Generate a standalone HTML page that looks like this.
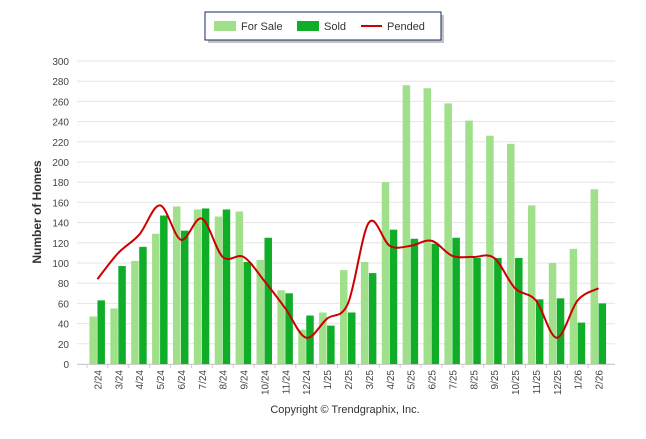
<!DOCTYPE html>
<html><head><meta charset="utf-8"><style>
body{margin:0;background:#fff;font-family:"Liberation Sans",Arial,sans-serif}
svg text{font-family:"Liberation Sans",Arial,sans-serif}
</style></head><body>
<svg id="c" width="646" height="434">
<g id="grid"></g>
<g id="bars"></g>
<g id="line"></g>
<g id="ax"></g>
<text x="41" y="212" transform="rotate(-90 41 212)" text-anchor="middle" font-size="12" font-weight="bold" fill="#333">Number of Homes</text>
<text x="345" y="413" text-anchor="middle" font-size="11" fill="#333">Copyright © Trendgraphix, Inc.</text>
<g>
<rect x="208" y="15" width="236" height="28" fill="#888" opacity="0.5"/>
<rect x="205" y="12" width="236" height="28" fill="#fff" stroke="#1a2a6c" stroke-width="1"/>
<rect x="214" y="21" width="22" height="10" fill="#a0e08a"/>
<text x="241" y="30" font-size="11" fill="#333">For Sale</text>
<rect x="297" y="21" width="22" height="10" fill="#0fad28"/>
<text x="324" y="30" font-size="11" fill="#333">Sold</text>
<line x1="361" y1="26" x2="382" y2="26" stroke="#cc0000" stroke-width="2"/>
<text x="387" y="30" font-size="11" fill="#333">Pended</text>
</g>
</svg>
<script>
const categories=["2/24","3/24","4/24","5/24","6/24","7/24","8/24","9/24","10/24","11/24","12/24","1/25","2/25","3/25","4/25","5/25","6/25","7/25","8/25","9/25","10/25","11/25","12/25","1/26","2/26"];
const forSale=[47,55,102,129,156,153,146,151,103,73,34,51,93,101,180,276,273,258,241,226,218,157,100,114,173];
const sold=[63,97,116,147,132,154,153,101,125,70,48,38,51,90,133,124,119,125,105,105,105,64,65,41,60];
const pended=[84,110,128,157,123,144,106,106,82,55,26,45,60,140,117,117,122,107,106,105,75,63,26,63,75];
const yTicks=[0,20,40,60,80,100,120,140,160,180,200,220,240,260,280,300];
const NS="http://www.w3.org/2000/svg";
const L=87,R=609,T=61,B=364;
const step=(R-L)/categories.length;
const y=v=>B-(v/300)*(B-T);
const xc=i=>L+step*(i+0.5);
function mk(t,a,p){const e=document.createElementNS(NS,t);for(const k in a)e.setAttribute(k,a[k]);p.appendChild(e);return e;}
const grid=document.getElementById('grid'),bars=document.getElementById('bars'),ax=document.getElementById('ax'),line=document.getElementById('line');
yTicks.forEach(v=>{
 const g=mk('line',{x1:77,x2:615,y1:y(v),y2:y(v),stroke:'#e6e6e6'},grid);
 
 
 const t=mk('text',{x:69,y:y(v)+4,'text-anchor':'end','font-size':'10',fill:'#444'},ax);
 t.textContent=v;
 
 
});
mk('line',{x1:77,x2:615,y1:B+0.5,y2:B+0.5,stroke:'#ccc'},ax);
categories.forEach((c,i)=>{
 const cx=xc(i);
 const a=mk('rect',{x:cx-8,y:y(forSale[i]),width:7.5,height:B-y(forSale[i]),fill:'#a0e08a'},bars);
 
 
 const b=mk('rect',{x:cx,y:y(sold[i]),width:7.5,height:B-y(sold[i]),fill:'#0fad28'},bars);
 
 
 const t=mk('text',{x:cx+4,y:370,'text-anchor':'end','font-size':'10',fill:'#444',transform:`rotate(-90 ${cx+4} 370)`},ax);
 t.textContent=c;
 
 
 mk('line',{x1:L+step*i,x2:L+step*i,y1:B,y2:B+4,stroke:'#ccc'},ax);
});
const pts=pended.map((v,i)=>[xc(i),y(v)]);
let d=`M${pts[0][0]},${pts[0][1]}`;
for(let i=0;i<pts.length-1;i++){
 const p0=pts[i-1]||pts[i],p1=pts[i],p2=pts[i+1],p3=pts[i+2]||p2;
 const c1=[p1[0]+(p2[0]-p0[0])/6,p1[1]+(p2[1]-p0[1])/6],c2=[p2[0]-(p3[0]-p1[0])/6,p2[1]-(p3[1]-p1[1])/6];
 d+=` C${c1[0]},${c1[1]} ${c2[0]},${c2[1]} ${p2[0]},${p2[1]}`;
}
const pl=mk('path',{d:d,fill:'none',stroke:'#cc0000','stroke-width':2},line);


</script>
</body></html>
